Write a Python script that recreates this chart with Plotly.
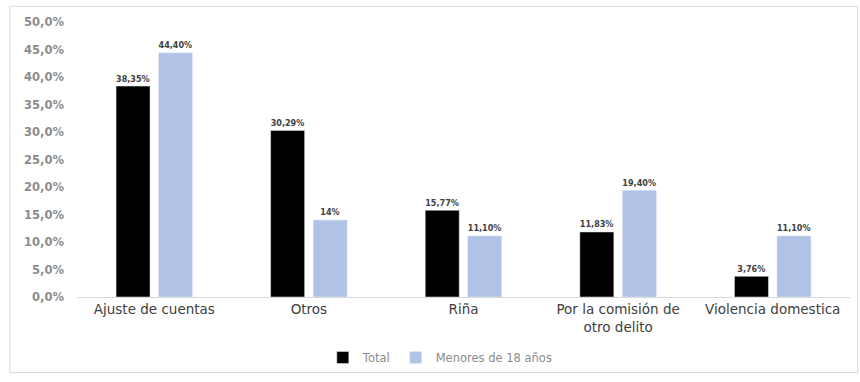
import plotly.graph_objects as go

categories = ["Ajuste de cuentas", "Otros", "Riña", "Por la comisión de<br>otro delito", "Violencia domestica"]
total = [38.35, 30.29, 15.77, 11.83, 3.76]
menores = [44.40, 14.0, 11.10, 19.40, 11.10]
total_labels = ["38,35%", "30,29%", "15,77%", "11,83%", "3,76%"]
menores_labels = ["44,40%", "14%", "11,10%", "19,40%", "11,10%"]
y_ticks = [0, 5, 10, 15, 20, 25, 30, 35, 40, 45, 50]
y_tick_labels = ["0,0%", "5,0%", "10,0%", "15,0%", "20,0%", "25,0%", "30,0%", "35,0%", "40,0%", "45,0%", "50,0%"]

label_font = dict(size=10.5, color="#404040", family="DejaVu Sans", weight="bold")

fig = go.Figure()
fig.add_trace(go.Bar(x=categories, y=total, name="Total", marker_color="#000000",
                     text=total_labels, textposition="outside", cliponaxis=False,
                     textfont=label_font))
fig.add_trace(go.Bar(x=categories, y=menores, name="Menores de 18 años", marker_color="#b0c3e6",
                     text=menores_labels, textposition="outside", cliponaxis=False,
                     textfont=label_font))

fig.update_layout(
    width=860, height=382,
    margin=dict(l=77, r=10, t=22, b=80),
    paper_bgcolor="white", plot_bgcolor="white",
    barmode="group", bargap=0.45, bargroupgap=0.2,
    font=dict(family="DejaVu Sans", color="#595959", size=11),
    showlegend=True,
    legend=dict(orientation="h", x=0.47, xanchor="center", y=-0.22, yanchor="middle",
                font=dict(size=11.5, color="#8c8c8c"), itemwidth=30),
    yaxis=dict(range=[0, 50], tickvals=y_ticks, ticktext=y_tick_labels, showgrid=False,
               zeroline=False, showline=False, ticks="", ticklabelstandoff=12,
               tickfont=dict(size=11.5, color="#8c8c8c", weight="bold")),
    xaxis=dict(showline=True, linecolor="#d9d9d9", linewidth=1, ticks="",
               tickfont=dict(size=13.5, color="#404040")),
    uniformtext=dict(minsize=8, mode="show"),
    shapes=[dict(type="rect", xref="paper", yref="paper", x0=-0.087, x1=1.01, y0=-0.275, y1=1.057,
                 line=dict(color="#d9d9d9", width=1))],
)
fig.write_html("out.html")
